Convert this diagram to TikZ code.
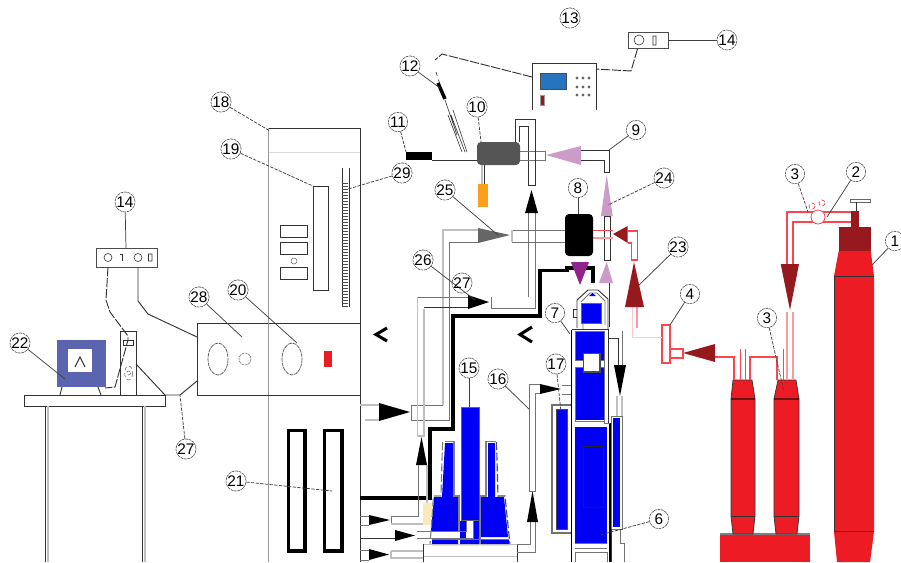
\documentclass[tikz,border=0pt]{standalone}
\usepackage{fontspec}
\setmainfont{Liberation Sans}
\definecolor{cylred}{RGB}{237,28,36}
\definecolor{darkred}{RGB}{150,25,30}
\definecolor{pipered}{RGB}{250,70,80}
\definecolor{lilac}{RGB}{205,155,200}
\definecolor{vesselblue}{RGB}{0,0,245}
\tikzset{
every picture/.style={line width=0.75pt},
numlabel/.style={circle,draw=black!70,dash pattern=on 2pt off 0.6pt,line width=0.45pt,minimum size=14.5pt,inner sep=0pt,font=\fontsize{11.5}{12}\selectfont,fill=white},
leader/.style={draw=black!75,line width=0.55pt},
dashleader/.style={leader,dash pattern=on 2.5pt off 1pt},
wire/.style={draw=black!80,line width=0.7pt},
longdash/.style={wire,dash pattern=on 7pt off 1.2pt},
tube/.style={draw=black!55,line width=0.75pt},
paletube/.style={draw=black!25,line width=0.8pt},
redtube/.style={draw=pipered,line width=0.9pt},
palered/.style={draw=pipered!55,line width=0.8pt},
heavy/.style={draw=black,line width=2.3pt},
vessel/.style={fill=vesselblue,draw=black!60,line width=0.7pt},
cylinder/.style={fill=cylred,draw=black!80,line width=0.55pt}}

\begin{document}
\begin{tikzpicture}[x=0.75pt,y=0.75pt,yscale=-1,xscale=1]
\useasboundingbox (0,0) rectangle (901,562);

% cabinet
\draw [draw=black!40,line width=1pt] (268.5,128) -- (268.5,562) ;
\draw [wire] (268.5,128) -- (360,128) -- (360,562) ;
\draw [draw=black!15] (268.5,152) -- (360,152) ;
\draw [wire,fill=white] (313,186) rectangle (328,290) ;
\draw [wire] (342,168) -- (342,307) (349,168) -- (349,307) ;
\foreach \y in {183,186,...,306} \draw [draw=black!70,line width=0.35pt] (342,\y) -- (348,\y) ;
\draw [wire] (280,225) rectangle (307,237) (280,242) rectangle (307,254) (280,267) rectangle (307,279) ;
\draw [draw=black!60,line width=0.4pt] (294,261) circle (3) ;
\draw [wire] (197,323) rectangle (360,395) ;
\draw [draw=black!40,line width=1pt] (268.5,323) -- (268.5,395) ;
\draw [draw=black!70,dash pattern=on 3pt off 0.6pt,line width=0.5pt] (218,359) ellipse (10 and 16) (292,359) ellipse (10 and 16) ;
\draw [draw=black!60,dash pattern=on 2pt off 0.6pt,line width=0.4pt] (245,359) circle (6) ;
\fill [cylred] (324,351) rectangle (332,367) ;
\draw [heavy] (288.5,430.5) rectangle (305,551) (324.5,430.5) rectangle (342,551) ;
\draw [line width=2.3pt] (387,328) -- (376,334.5) -- (387,341) ;
\draw [line width=2.3pt] (532,327) -- (520,334.5) -- (532,342) ;

% bench with monitor and meter
\draw [wire,fill=white] (24,395) rectangle (165,406) ;
\draw [wire] (45,406) -- (45,562) (142,406) -- (142,562) ;
\draw [paletube] (48,406) -- (48,562) (145,406) -- (145,562) ;
\fill [fill={rgb,255:red,90;green,100;blue,175}] (57,340) rectangle (106,387) ;
\fill [white] (67.5,349) rectangle (92,372) ;
\draw [wire] (75,367) -- (80,357) -- (85,367) ;
\draw [wire] (62,387) -- (60,395) (98,387) -- (101,395) ;
\draw [wire] (120,395) -- (120,331) -- (136,331) -- (136,395) ;
\draw [wire,line width=0.45pt] (123.5,340) rectangle (133.5,345) ;
\draw [draw=black!60,densely dashed,line width=0.4pt] (128.7,373) ellipse (4 and 7) (128.7,373) circle (2) ;
\draw [draw=black!70,line width=0.55pt] (96,248) rectangle (157,267) ;
\draw [wire,line width=0.45pt] (108,257.5) circle (4) (138,257.5) circle (4) (148.5,254) rectangle (152,261) ;
\draw [wire,line width=0.45pt] (120,254) -- (122.5,254) -- (122.5,261) ;
\draw [longdash] (108,267) -- (106,300) -- (110,312) -- (128,336) -- (128,340) -- (115,387) -- (105,388) ;
\draw [wire] (138,267) -- (138,301) -- (148,314) -- (197,337) ;
\draw [wire] (136,364) -- (165,395) -- (180,395) -- (197,381) ;

% controller and furnace head
\draw [wire] (532,110) -- (532,63) -- (596,63) -- (596,110) ;
\draw [draw=black!70,fill={rgb,255:red,38;green,115;blue,190}] (540,73) rectangle (566,89) ;
\draw [draw=black!40,fill=darkred] (540,95) rectangle (544,105) ;
\foreach \x in {577,583,589} \foreach \y in {78,87,95} \fill [black!60] (\x,\y) circle (1.6) ;
\draw [draw=black!70,line width=0.55pt] (628,32) rectangle (668,48) ;
\draw [wire,line width=0.45pt] (639,40) circle (5) (653,36) rectangle (656,45) ;
\draw [longdash] (637.5,49) -- (631,71) -- (596,69) ;
\draw [longdash] (532,77) -- (442,54) -- (435,60) ;
\draw [wire,dashed,line width=0.5pt] (436,72) -- (445,100) ;
\draw [draw=black,line width=2.6pt] (438,83) -- (445,99) ;
\draw [wire,line width=0.45pt] (445,100) -- (457,135) (448,115) -- (462,152) (453,110) -- (467,152) (451,115) -- (465,152) ;
\fill [black] (406,152) rectangle (432,160) ;
\draw [wire] (432,160) -- (477,160) ;
\draw [tube] (520,151.5) -- (545.5,151.5) -- (545.5,160) -- (520,160) ;
\draw [wire,fill=white] (515.7,142) -- (515.7,119) -- (535,119) -- (535,185) -- (528,185) -- (528,126) -- (519,126) -- (519,142) ;
\draw [tube] (528,151.5) -- (535,151.5) (528,160) -- (535,160) ;
\draw [fill={rgb,255:red,85;green,85;blue,85},draw=none,rounded corners=3pt] (477,142) rectangle (520,165) ;
\draw [paletube] (482,165) -- (482,184) ;
\draw [wire] (484.5,165) -- (484.5,184) ;
\fill [fill={rgb,255:red,250;green,160;blue,30}] (478,184) rectangle (488,207) ;
\fill [lilac] (546,155) -- (581,146) -- (581,165) -- cycle ;
\draw [wire] (581,150.5) -- (609,150.5) -- (609,172.5) -- (604,172.5) -- (604,160) -- (581,160) ;

% gas line through the reactor
\fill [lilac] (606.7,175) -- (612.7,216) -- (601,216) -- cycle ;
\draw [wire,fill=white] (604,216) rectangle (610,260.5) ;
\fill [lilac] (606.7,262) -- (613,283) -- (599,283) -- cycle ;
\draw [wire] (609,283) -- (609,327) ;
\draw [redtube] (593,230.5) -- (612.5,230.5) ;
\draw [palered] (593,238) -- (612.5,238) ;
\fill [black,rounded corners=3pt] (565,214) rectangle (593,256) ;
\draw [tube] (512,230) -- (565,230) (512,242) -- (565,242) ;
\draw [paletube] (512,230) -- (512,242) ;
\fill [black!60] (510,235) -- (478,228) -- (478,243) -- cycle ;
\draw [paletube] (478,230) -- (443,230) -- (443,405) ;
\draw [tube] (443,405) -- (411,405) -- (411,420) -- (449.5,420) -- (449.5,242) -- (478,242) ;
\draw [paletube] (417.5,297) -- (417.5,436) -- (424,436) -- (424,309) ;
\draw [tube] (417.5,297) -- (468,297) ;
\draw [wire] (424,307) -- (468,307) ;
\fill [black] (489,302) -- (468,295) -- (468,309) -- cycle ;
\draw [tube] (491,297) -- (491,308) -- (535,308) -- (535,213) ;
\draw [tube] (528,297) -- (528,213) ;
\fill [black] (531.5,190) -- (538,213) -- (525,213) -- cycle ;
\draw [heavy] (360,498) -- (430,498) -- (430,429) -- (453,429) -- (453,316) -- (540,316) -- (540,270.5) -- (567,270.5) -- (567,268) -- (593,268) -- (593,283) ;
\fill [fill={rgb,255:red,145;green,35;blue,140}] (571,262) -- (589,262) -- (580,285) -- cycle ;

% inlet arrows on the cabinet
\draw [paletube] (360,405) -- (379,405) (365,420) -- (379,420) ;
\fill [black] (410,412) -- (379,403) -- (379,421) -- cycle ;
\fill [black] (421.5,437) -- (427,465) -- (416,465) -- cycle ;
\draw [tube] (418,465) -- (418,516) -- (391,516) -- (391,524) ;
\draw [paletube] (391,524) -- (427,524) -- (427,465) ;
\draw [tube] (360,516) -- (369,516) (360,525) -- (369,525) ;
\fill [black] (390,520) -- (369,515) -- (369,525) -- cycle ;
\draw [wire] (360,538.5) -- (395,538.5) ;
\fill [black] (415,535.5) -- (395,530) -- (395,541) -- cycle ;
\draw [tube] (360,550) -- (369,550) (360,560) -- (369,560) ;
\fill [black] (389,554.5) -- (369,549) -- (369,560) -- cycle ;
\draw [paletube] (391,551) -- (391,558) -- (423,558) ;
\draw [paletube] (391,551) -- (423,551) ;
\fill [fill={rgb,255:red,253;green,232;blue,185}] (423,503) rectangle (433,525) ;

% blue bottles
\fill [vesselblue] (432,540) rectangle (458,545) (481,540) rectangle (509,545) (460,521) rectangle (479,545) ;
\fill [white] (466,521) rectangle (473,538) ;
\draw [draw=white,line width=2pt] (443,441) -- (441,496) -- (434,496) -- (430.7,538) (497,441) -- (498,496) -- (505,496) -- (509,538) ;
\fill [vesselblue] (445,443) -- (453,443) -- (453,497) -- (458.5,497) -- (458.5,531) -- (431,531) -- (434,497) -- (442,497) -- cycle ;
\fill [vesselblue] (488,443) -- (495,443) -- (495,497) -- (504,497) -- (508,537) -- (481,537) -- (481,497) -- (488,497) -- cycle ;
\draw [draw=black!50,line width=0.85pt] (445,441.5) -- (454,441.5) -- (454,496) -- (459,496) -- (459,532) ;
\draw [draw=black!50,line width=0.85pt] (480,496) -- (486,496) -- (486,441.5) -- (496,441.5) (480,496) -- (480,545) ;
\draw [draw=black!50,line width=0.85pt,dash pattern=on 6pt off 2pt] (442.5,442) -- (441,496) -- (433.5,496) -- (430,545) ;
\draw [draw=black!70,line width=0.85pt,dash pattern=on 6pt off 2pt] (496.5,442) -- (498,496) -- (505,496) -- (510,545) ;
\draw [tube] (432,531.5) -- (466,531.5) -- (466,521) (473,521) -- (473,538) -- (432,538) (432,539) -- (509,539) ;
\draw [tube] (417,531.5) -- (432,531.5) (417,538) -- (432,538) ;
\draw [vessel] (461,407) rectangle (479,520.5) ;
\draw [paletube,line width=0.7pt] (423,544) -- (517,544) (423,556.5) -- (517,556.5) ;
\draw [wire,line width=0.6pt] (423,544) -- (423,562) (517,544) -- (517,562) ;
\draw [tube] (517,544) -- (530,544) -- (530,522) (517,552) -- (535,552) -- (535,522) ;
\fill [black] (532.5,491) -- (538,522) -- (527,522) -- cycle ;
\draw [tube,fill=white] (540,384) -- (529,384) -- (529,491) -- (535,491) -- (535,393) -- (540,393) ;
\fill [black] (561,389) -- (540,384) -- (540,394) -- cycle ;
\draw [tube] (562,385) -- (572,385) (562,394) -- (572,394) ;

% reactor column
\draw [wire] (577,328) -- (577,300) -- (588,290) -- (598,290) -- (608,299) -- (608,329) ;
\draw [tube,line width=0.6pt] (581,302) -- (590,293) -- (597,293) -- (605,301) -- (605,325) (583,323) -- (583,329) ;
\draw [wire,line width=0.6pt] (577,309) -- (573,309) -- (573,317) -- (577,317) ;
\fill [vesselblue] (589,296) -- (592.5,293) -- (596,296) -- cycle ;
\fill [vesselblue] (581,303) rectangle (601,323) ;
\draw [draw=black!60,line width=0.5pt] (581,303) rectangle (601,323) ;
\fill [white] (571,329) rectangle (610,562) ;
\draw [draw=black,line width=0.9pt] (571.5,329.5) -- (571.5,562) ;
\draw [wire] (571.5,329.5) -- (608,329.5) -- (608,423) ;
\draw [draw=black,line width=0.9pt] (610,423) -- (610,562) ;
\fill [vesselblue] (575,331) rectangle (604,420) ;
\draw [tube] (575,331) -- (604,331) -- (604,423) -- (610,423) (575,331) -- (575,421) -- (604,421) ;
\fill [white] (575,360) rectangle (604,367) ;
\draw [tube] (575,360) -- (583,360) (575,367) -- (583,367) (600,360) -- (604,360) (600,367) -- (604,367) ;
\draw [draw=black!70,fill=white,line width=1pt] (583.5,353.5) rectangle (600,372) ;
\fill [vesselblue] (575,427) rectangle (607,543) ;
\draw [draw=black!85,line width=0.7pt] (583,446) rectangle (603,507) ;
\draw [tube] (575,543.5) -- (607,543.5) (575,548) -- (607,548) (575,552) -- (607,552) (575,552) -- (575,562) (607,552) -- (607,562) ;
\draw [tube,line width=1.1pt,fill=white] (571,533) -- (552,533) -- (552,405) -- (571,405) ;
\fill [vesselblue] (556,409) rectangle (567.5,529) ;
\draw [draw=black!70,line width=0.5pt] (556,529) -- (556,409) -- (567.5,409) -- (567.5,529) -- cycle ;
\draw [wire] (608,338) -- (618,338) -- (618,365) ;
\draw [tube] (622,331) -- (622,365) ;
\fill [black] (620,396) -- (626,365) -- (614,365) -- cycle ;
\draw [paletube] (617,396) -- (617,416) (622,396) -- (622,416) ;
\draw [tube,fill=white] (611,416) rectangle (622,529) ;
\fill [vesselblue] (613,417.5) rectangle (620,527) ;
\draw [wire,line width=0.6pt] (611,529) -- (611,562) ;
\draw [tube] (620,529) -- (620,543) -- (624,543) -- (624,562) ;

% gas cylinders
\fill [darkred] (851,211) rectangle (859,227) ;
\draw [draw=black!60,fill=white,line width=0.55pt] (850,199) rectangle (870,202) ;
\draw [wire] (856.6,202) -- (856.6,211) ;
\fill [darkred] (838.7,227) rectangle (870.7,251) ;
\fill [cylred] (838.7,251) -- (870.7,251) -- (874,276) -- (874,531.7) -- (870,562) -- (837,562) -- (834,531.7) -- (834,276) -- cycle ;
\draw [wire] (834,276) -- (874,276) (834,531.7) -- (874,531.7) (834,276) -- (834,531.7) ;
\draw [draw=black!50,line width=1.3pt] (720,534) -- (810,534) ;
\fill [cylred] (720,534.5) rectangle (810,562) ;
\draw [cylinder] (733,380) -- (752,380) -- (755,399) -- (755,516) -- (753,534) -- (733,534) -- (731,516) -- (731,399) -- cycle ;
\draw [cylinder] (778,380) -- (796,380) -- (799,399) -- (799,516) -- (797,534) -- (776,534) -- (774,516) -- (774,399) -- cycle ;
\draw [draw=darkred!70!black,line width=1.1pt] (731,399) -- (755,399) (774,399) -- (799,399) ;
\draw [wire] (731,516) -- (755,516) (774,516) -- (799,516) ;
\draw [redtube] (851,212) -- (787,212) -- (787,264) (851,222) -- (793,222) -- (793,264) ;
\draw [draw=pipered,fill=white,line width=0.6pt] (818,217) circle (7) ;
\draw [draw=pipered,densely dashed,line width=0.55pt] (812,206) circle (3) (822,203) circle (3) ;
\fill [darkred] (780.7,264) -- (799,264) -- (790,310) -- cycle ;
\draw [palered] (787,312) -- (787,380) (793,312) -- (793,380) ;
\draw [redtube,line width=0.55pt] (783,349) -- (783,380) (740,349) -- (740,380) (745,349) -- (745,380) ;
\draw [redtube] (715,357) -- (734,357) -- (734,380) (777,380) -- (777,357) -- (750,357) -- (750,380) ;
\fill [darkred] (683,353) -- (715,344) -- (715,362) -- cycle ;
\draw [redtube,fill=white] (670,349) rectangle (683,358) ;
\draw [redtube,fill=white] (662,325) rectangle (670,363) ;
\draw [draw=pipered!30,line width=0.55pt] (662,337) -- (632,337) -- (632,307) ;
\draw [palered] (637,328) -- (637,307) ;
\fill [darkred] (634,262) -- (644,307) -- (625,307) -- cycle ;
\draw [redtube] (627.7,231) -- (637.3,231) -- (637.3,260) -- (631.7,260) -- (631.7,243) -- (627.7,243) ;
\fill [darkred] (613,234) -- (627.7,226) -- (627.7,243) -- cycle ;

% Text Node
\node [numlabel] (lbl13) at (570,18) {13};
\node [numlabel] (lbl14a) at (727,40) {14};
\coordinate (end14a) at (668,40);
\draw [leader] (lbl14a) -- (end14a);
\node [numlabel] (lbl12) at (410,66) {12};
\coordinate (end12) at (440,88);
\draw [leader] (lbl12) -- (end12);
\node [numlabel] (lbl10) at (477,107) {10};
\coordinate (end10) at (481,142);
\draw [dashleader] (lbl10) -- (end10);
\node [numlabel] (lbl11) at (398,122) {11};
\coordinate (end11) at (406,152);
\draw [dashleader] (lbl11) -- (end11);
\node [numlabel] (lbl9) at (636,130) {9};
\coordinate (end9) at (609,150);
\draw [leader] (lbl9) -- (end9);
\node [numlabel] (lbl24) at (664,178) {24};
\coordinate (end24) at (608,205);
\draw [dashleader] (lbl24) -- (end24);
\node [numlabel] (lbl29) at (402,173) {29};
\coordinate (end29) at (348,189);
\draw [dashleader] (lbl29) -- (end29);
\node [numlabel] (lbl25) at (445,190) {25};
\coordinate (end25) at (498,235);
\draw [leader] (lbl25) -- (end25);
\node [numlabel] (lbl8) at (578,188) {8};
\coordinate (end8) at (578,214);
\draw [leader] (lbl8) -- (end8);
\node [numlabel] (lbl18) at (221,102) {18};
\coordinate (end18) at (270,131);
\draw [dashleader] (lbl18) -- (end18);
\node [numlabel] (lbl19) at (231,149) {19};
\coordinate (end19) at (313,186);
\draw [dashleader] (lbl19) -- (end19);
\node [numlabel] (lbl3a) at (795,174) {3};
\coordinate (end3a) at (808,212);
\draw [dashleader] (lbl3a) -- (end3a);
\node [numlabel] (lbl2) at (856,172) {2};
\coordinate (end2) at (827,217);
\draw [leader] (lbl2) -- (end2);
\node [numlabel] (lbl1) at (895,241) {1};
\coordinate (end1) at (872,265);
\draw [leader] (lbl1) -- (end1);
\node [numlabel] (lbl23) at (678,247) {23};
\coordinate (end23) at (635,289);
\draw [leader] (lbl23) -- (end23);
\node [numlabel] (lbl4) at (690,294) {4};
\coordinate (end4) at (670,325);
\draw [leader] (lbl4) -- (end4);
\node [numlabel] (lbl3b) at (767,318) {3};
\coordinate (end3b) at (784,392);
\draw [dashleader] (lbl3b) -- (end3b);
\node [numlabel] (lbl26) at (423,260) {26};
\coordinate (end26) at (475,300);
\draw [leader] (lbl26) -- (end26);
\node [numlabel,fill=none] (lbl27a) at (462,283) {27};
\node [numlabel] (lbl28) at (199,297) {28};
\coordinate (end28) at (242,337);
\draw [leader] (lbl28) -- (end28);
\node [numlabel] (lbl20) at (238,290) {20};
\coordinate (end20) at (297,343);
\draw [leader] (lbl20) -- (end20);
\node [numlabel] (lbl7) at (555,313) {7};
\coordinate (end7) at (570,334);
\draw [leader] (lbl7) -- (end7);
\node [numlabel] (lbl17) at (556,364) {17};
\coordinate (end17) at (561,412);
\draw [dashleader] (lbl17) -- (end17);
\node [numlabel] (lbl15) at (469,368) {15};
\coordinate (end15) at (469,407);
\draw [leader] (lbl15) -- (end15);
\node [numlabel] (lbl16) at (498,379) {16};
\coordinate (end16) at (529,409);
\draw [leader] (lbl16) -- (end16);
\node [numlabel] (lbl22) at (20,343) {22};
\coordinate (end22) at (65,379);
\draw [leader] (lbl22) -- (end22);
\node [numlabel] (lbl14b) at (125,202) {14};
\coordinate (end14b) at (126,248);
\draw [leader] (lbl14b) -- (end14b);
\node [numlabel] (lbl27b) at (186,449) {27};
\coordinate (end27b) at (180,395);
\draw [dashleader] (lbl27b) -- (end27b);
\node [numlabel] (lbl21) at (236,481) {21};
\coordinate (end21) at (332,491);
\draw [dashleader] (lbl21) -- (end21);
\node [numlabel] (lbl6) at (659,519) {6};
\coordinate (end6) at (600,535);
\draw [dashleader] (lbl6) -- (end6);

\end{tikzpicture}
\end{document}
